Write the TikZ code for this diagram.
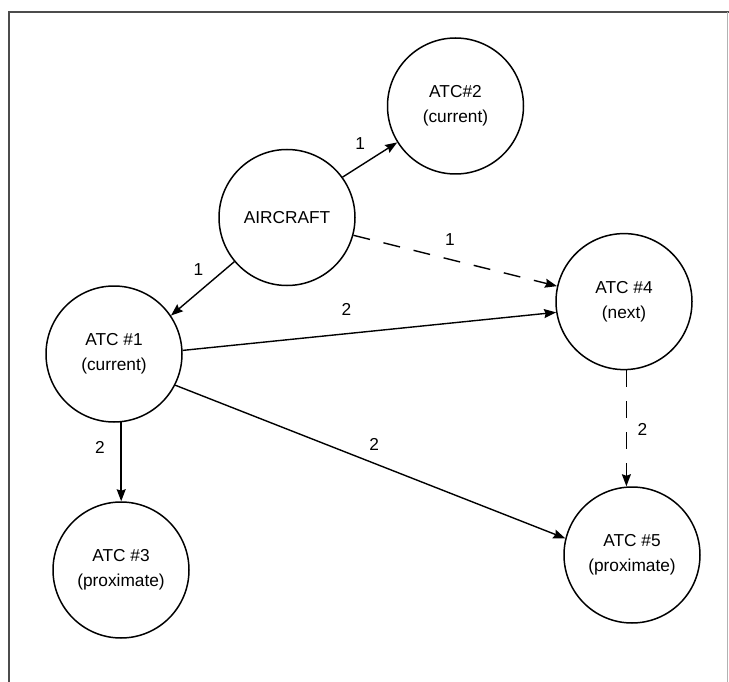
\documentclass[tikz,border=0pt]{standalone}
\usepackage{fontspec}
\setmainfont{Liberation Sans}
\usetikzlibrary{arrows.meta}
\begin{document}
\begin{tikzpicture}[x=1pt,y=-1pt,
  station/.style={circle,draw,line width=1.5pt,minimum size=136pt,inner sep=0pt,
    align=center,font=\fontsize{17.3}{25}\selectfont},
  msg/.style={line width=1.4pt,-{Stealth[inset=1.5pt,length=12pt,width=9pt]}},
  later/.style={msg,dash pattern=on 17pt off 14pt},
  seq/.style={font=\fontsize{17.3}{20}\selectfont,inner sep=1pt}]
\useasboundingbox (0,0) rectangle (729,682);
% frame
\draw[line width=2pt,black!70] (9,684) -- (9,12.5) -- (729,12.5);
\draw[line width=1pt,black!30] (727.5,12.5) -- (727.5,684);

% stations
\node[station] (air) at (287,217.5) {AIRCRAFT};
\node[station] (a2) at (455.5,106) {ATC\#2\\(current)};
\node[station] (a1) at (114,354) {ATC \#1\\(current)};
\node[station] (a4) at (624,301.6) {ATC \#4\\(next)};
\node[station] (a3) at (121,570) {ATC \#3\\(proximate)};
\node[station] (a5) at (632,555) {ATC \#5\\(proximate)};

% message flows
\draw[msg] (air.36) -- (a2.212);
\draw[msg] (air.220) -- (a1.34);
\draw[later] (air.-15) -- (a4.167);
\draw[msg] (a1.3) -- (a4.189);
\draw[msg] (a1.-84) -- (a1.-84 |- a3.north);
\draw[msg] (a1.-27) -- (a5.166);
\draw[later] (a4.-88) -- (a4.-88 |- a5.north);

% sequence numbers
\node[seq] (s1) at (360.3,143.5) {1};
\node[seq] (s2) at (198.5,269.7) {1};
\node[seq] (s3) at (450,240) {1};
\node[seq] (s4) at (346.4,309.7) {2};
\node[seq] (s5) at (100,447) {2};
\node[seq] (s6) at (374.2,444.5) {2};
\node[seq] (s7) at (642.5,429.3) {2};
\end{tikzpicture}
\end{document}
